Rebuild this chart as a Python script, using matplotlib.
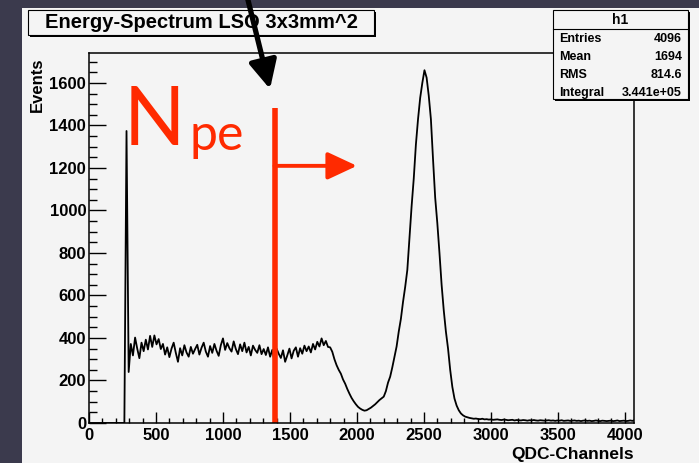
import matplotlib
matplotlib.use("Agg")
import matplotlib.pyplot as plt
import numpy as np
from matplotlib.patches import Rectangle, FancyArrowPatch

# QDC spectrum, 16-channel bins from 0 to 4096
bin_width = 16
pedestal = [0] * 17 + [1374]
plateau = [
    240, 372, 318, 402, 350, 305, 378, 338, 392, 346, 410, 358, 412, 370, 395, 348,
    372, 322, 356, 310, 350, 378, 330, 288, 352, 318, 366, 332, 312, 358, 326, 348,
    368, 322, 354, 378, 336, 312, 362, 330, 372, 340, 316, 366, 398, 344, 376, 352,
    336, 384, 348, 324, 370, 338, 378, 332, 358, 318, 364, 344, 330, 366, 324, 348,
    320, 356, 312, 344, 290, 350, 326, 306, 342, 288, 318, 350, 304, 340, 356, 312,
    352, 326, 364, 338, 360, 332, 372, 346, 382, 360, 398, 366, 386, 358, 356, 335,
]
valley = [
    300, 272, 250, 232, 205, 185, 160, 138, 118, 102, 88, 76, 68, 62, 58, 60,
    66, 72, 80, 88, 98, 108, 116, 124, 150, 190, 218, 262, 312, 360, 430, 490,
]
photopeak = [
    570, 640, 720, 870, 1020, 1150, 1310, 1430, 1530, 1600, 1660, 1625, 1540, 1430, 1240, 1060,
    940, 800, 650, 530, 430, 350, 250, 170, 115, 82, 60, 45, 36, 30, 27, 24,
]
tail = [
    22, 20, 21, 19, 18, 20, 17, 18, 16, 17, 15, 16, 17, 15, 14, 16,
    15, 13, 14, 15, 12, 14, 13, 12, 14, 13, 11, 13, 12, 14, 12, 11,
    13, 12, 11, 12, 13, 11, 12, 10, 12, 11, 13, 10, 11, 12, 10, 11,
    12, 10, 11, 9, 11, 12, 10, 11, 9, 10, 12, 10, 9, 11, 10, 9,
    10, 11, 9, 10, 12, 9, 10, 11, 9, 10, 12, 10, 13, 11,
]
counts = np.array(pedestal + plateau + valley + photopeak + tail)
centers = np.arange(len(counts)) * bin_width + bin_width / 2

npe_cut = 1385
stats_names = ["Entries", "Mean", "RMS", "Integral"]
stats_values = ["4096", "1694", "814.6", "3.441e+05"]

W, H = 699, 463
RED = "#ff2a00"
PAD = "#f4f4f4"
root_font = "Liberation Sans"


def fx(x):
    return x / W


def fy(y):
    return 1 - y / H


def box(x0, y0, x1, y1, shadow=2):
    # ROOT style pave with a drop shadow
    fig.add_artist(Rectangle((fx(x0 + shadow), fy(y1 + shadow)), (x1 - x0) / W, (y1 - y0) / H,
                             transform=fig.transFigure, facecolor="black", edgecolor="none"))
    fig.add_artist(Rectangle((fx(x0), fy(y1)), (x1 - x0) / W, (y1 - y0) / H,
                             transform=fig.transFigure, facecolor=PAD, edgecolor="black", lw=0.8))


fig = plt.figure(figsize=(W / 100, H / 100), dpi=100)
fig.patch.set_facecolor("#3b3a4d")
fig.add_artist(Rectangle((fx(22), 0), 1 - fx(22), fy(8), transform=fig.transFigure,
                         facecolor=PAD, edgecolor="none", zorder=0))

ax = fig.add_axes([fx(89), fy(423), 545 / W, 370 / H])
ax.set_facecolor(PAD)
ax.plot(centers, counts, color="black", lw=1.3)
ax.set_xlim(0, 4068)
ax.set_ylim(0, 1741)
ax.set_xticks(np.arange(0, 4001, 500))
ax.set_xticks(np.arange(0, 4068, 100), minor=True)
ax.set_yticks(np.arange(0, 1601, 200))
ax.set_yticks(np.arange(0, 1741, 50), minor=True)
ax.tick_params(axis="x", which="major", direction="in", length=8, width=1, pad=3.5)
ax.tick_params(axis="x", which="minor", direction="in", length=3.8, width=1)
ax.tick_params(axis="y", which="major", direction="in", length=12, width=1, pad=2)
ax.tick_params(axis="y", which="minor", direction="in", length=6, width=1)
for lab in ax.get_xticklabels() + ax.get_yticklabels():
    lab.set_fontfamily(root_font)
    lab.set_fontweight("bold")
    lab.set_fontsize(12)
for sp in ax.spines.values():
    sp.set_linewidth(1.1)

fig.text(fx(37), fy(57), "Events", rotation=90, ha="center", va="top",
         family=root_font, weight="bold", fontsize=12)
fig.text(fx(634), fy(459), "QDC-Channels", ha="right", va="baseline",
         family=root_font, weight="bold", fontsize=12.5)

# title pave
box(28, 10, 374, 35)
fig.text(fx(201), fy(23), "Energy-Spectrum LSO 3x3mm^2", ha="center", va="center",
         family=root_font, weight="bold", fontsize=14.5)

# statistics pave
box(553, 10, 688, 99)
fig.add_artist(plt.Line2D([fx(553), fx(688)], [fy(29), fy(29)], transform=fig.transFigure,
                          color="black", lw=0.8))
fig.text(fx(620), fy(20), "h1", ha="center", va="center", family=root_font, weight="bold", fontsize=10)
for i, (name, val) in enumerate(zip(stats_names, stats_values)):
    yy = fy(39 + i * 18)
    fig.text(fx(559), yy, name, ha="left", va="center", family=root_font, weight="bold", fontsize=9)
    fig.text(fx(682), yy, val, ha="right", va="center", family=root_font, weight="bold", fontsize=9)

# N_pe threshold marker
ax.plot([npe_cut, npe_cut], [0, 1482], color=RED, lw=4, solid_capstyle="butt", clip_on=False)
ax.annotate("", xy=(2000, 1210), xytext=(npe_cut, 1210),
            arrowprops=dict(arrowstyle="-|>,head_length=0.9,head_width=0.42", color=RED, lw=2.8,
                            mutation_scale=20, shrinkA=0, shrinkB=0))
fig.text(fx(124), fy(145), "N", color=RED, family="Lato", fontsize=58, ha="left", va="baseline")
fig.text(fx(190), fy(150), "pe", color=RED, family="Lato", fontsize=36, ha="left", va="baseline")

fig.add_artist(FancyArrowPatch((fx(246), fy(-8)), (fx(270), fy(89)), transform=fig.transFigure,
                               arrowstyle="-|>,head_length=0.85,head_width=0.42", color="black",
                               lw=3.8, mutation_scale=20, shrinkA=0, shrinkB=0))

fig.savefig("out.png", dpi=100, facecolor=fig.get_facecolor())
